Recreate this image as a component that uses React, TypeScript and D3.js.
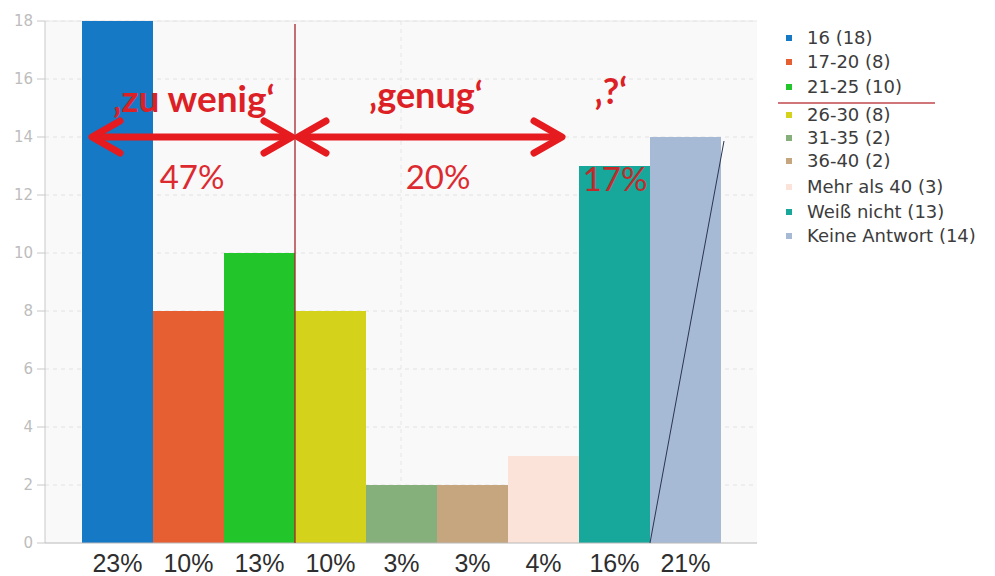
import React from "react";
import * as d3 from "d3";

const categories = ["16", "17-20", "21-25", "26-30", "31-35", "36-40", "Mehr als 40", "Weiß nicht", "Keine Antwort"];
const counts = [18, 8, 10, 8, 2, 2, 3, 13, 14];
const percentLabels = ["23%", "10%", "13%", "10%", "3%", "3%", "4%", "16%", "21%"];
const colors = ["#1679c5", "#e65f32", "#22c52a", "#d4d21b", "#85b07c", "#c6a67f", "#fbe3da", "#17a79b", "#a6b9d5"];
const yTicks = [0, 2, 4, 6, 8, 10, 12, 14, 16, 18];

const W = 995;
const H = 576;
const plotLeft = 45;
const plotRight = 757;
const plotTop = 21;
const plotBottom = 543;

export default function App() {
  const y = d3.scaleLinear().domain([0, 18]).range([plotBottom, plotTop]);
  const x = d3.scaleBand<string>().domain(categories).range([82, 721]).padding(0);
  const bw = x.bandwidth();
  const red = "#e51b1f";
  const arrowY = y(14);
  const dividerX = x(categories[3])!;

  const arrow = (x1: number, x2: number) => {
    const hl = 28, hw = 16;
    return (
      <g stroke={red} strokeWidth={7} fill="none" strokeLinecap="round" strokeLinejoin="round">
        <line x1={x1 + 3} y1={arrowY} x2={x2 - 3} y2={arrowY} />
        <polyline points={`${x1 + hl},${arrowY - hw} ${x1},${arrowY} ${x1 + hl},${arrowY + hw}`} />
        <polyline points={`${x2 - hl},${arrowY - hw} ${x2},${arrowY} ${x2 - hl},${arrowY + hw}`} />
      </g>
    );
  };

  const last = categories[categories.length - 1];

  return (
    <svg width={W} height={H} style={{ position: "absolute", left: 0, top: 0, background: "#fff" }}>
      <rect x={plotLeft} y={plotTop} width={plotRight - plotLeft} height={plotBottom - plotTop} fill="#f9f9f9" />
      {yTicks.filter((t) => t > 0).map((t) => (
        <line key={"g" + t} x1={plotLeft} x2={plotRight} y1={y(t)} y2={y(t)} stroke="#e2e2e2" strokeDasharray="4,4" strokeWidth={1} />
      ))}
      <line x1={(plotLeft + plotRight) / 2} x2={(plotLeft + plotRight) / 2} y1={plotTop} y2={plotBottom} stroke="#e6e6e6" strokeDasharray="4,4" />
      <line x1={plotLeft} x2={plotRight} y1={plotTop} y2={plotTop} stroke="#e8e8e8" />
      {categories.map((c, i) => (
        <rect key={c} x={x(c)!} y={y(counts[i])} width={bw} height={plotBottom - y(counts[i])} fill={colors[i]} />
      ))}
      <line x1={plotLeft} x2={plotLeft} y1={plotTop} y2={plotBottom} stroke="#c8c8c8" />
      <line x1={plotLeft} x2={plotRight} y1={plotBottom} y2={plotBottom} stroke="#b8b8b8" />
      {yTicks.map((t) => (
        <g key={"t" + t}>
          <line x1={plotLeft - 8} x2={plotLeft} y1={y(t)} y2={y(t)} stroke="#c8c8c8" />
          <text x={plotLeft - 12} y={y(t)} dy="0.35em" textAnchor="end" fontFamily="DejaVu Sans" fontSize={15} fill="#bdbdbd">{t}</text>
        </g>
      ))}
      {categories.map((c, i) => (
        <text key={"p" + c} x={x(c)! + bw / 2} y={572} textAnchor="middle" fontFamily="Liberation Sans" fontSize={25} fill="#2e2e2e">{percentLabels[i]}</text>
      ))}
      <line x1={x(last)!} y1={y(0)} x2={x(last)! + bw + 3} y2={y(14) + 4} stroke="#2a3550" strokeWidth={1} />
      <line x1={dividerX} x2={dividerX} y1={24} y2={plotBottom} stroke="#a3262c" strokeWidth={1.3} />
      {arrow(92, 292)}
      {arrow(298, 562)}
      <g fontFamily="Lato" fill="#dd1f26">
        <text x={194} y={112} textAnchor="middle" fontSize={37} fontWeight="bold">‚zu wenig‘</text>
        <text x={426} y={108} textAnchor="middle" fontSize={36} fontWeight="bold">‚genug‘</text>
        <text x={611} y={104} textAnchor="middle" fontSize={36} fontWeight="bold">‚?‘</text>
        <text x={192} y={189} textAnchor="middle" fontSize={33} fill="#dc2a30">47%</text>
        <text x={438} y={189} textAnchor="middle" fontSize={33} fill="#dc2a30">20%</text>
        <text x={615} y={191} textAnchor="middle" fontSize={33} fill="#c42a2a">17%</text>
      </g>
      <g fontFamily="DejaVu Sans" fontSize={18} fill="#3c3c3c">
        {categories.map((c, i) => {
          const ly = [38, 62, 87, 115, 138, 161, 187, 212, 236][i];
          return (
            <g key={"l" + c}>
              <rect x={786} y={ly - 3} width={6} height={6} fill={colors[i]} />
              <text x={807} y={ly} dy="0.35em">{`${c} (${counts[i]})`}</text>
            </g>
          );
        })}
      </g>
      <line x1={778} x2={935} y1={103} y2={103} stroke="#c0474d" strokeWidth={1.3} />
    </svg>
  );
}
